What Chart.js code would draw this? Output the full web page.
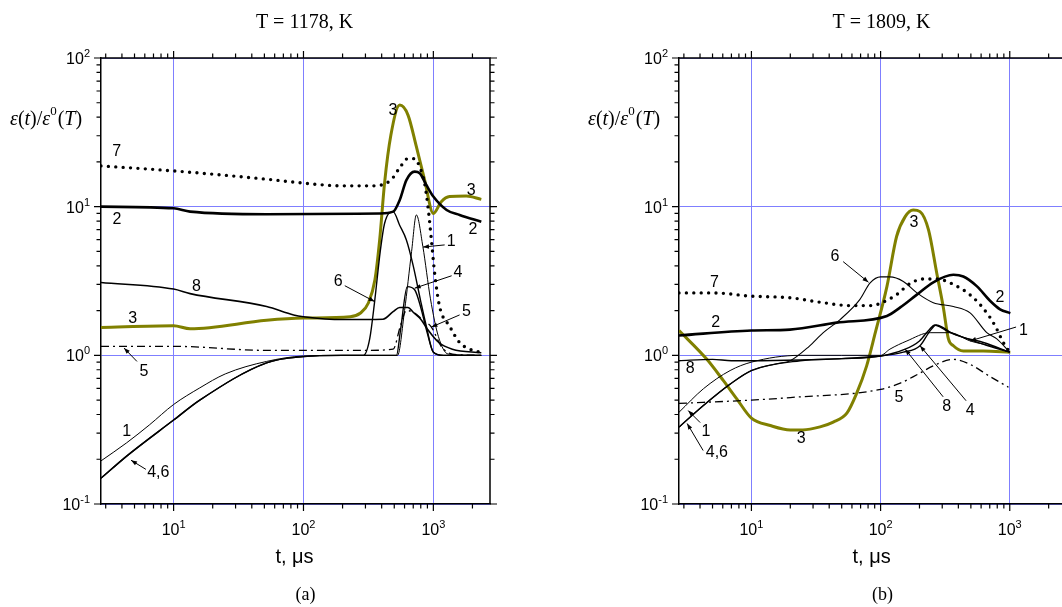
<!DOCTYPE html>
<html>
<head>
<meta charset="utf-8">
<script src="https://cdn.jsdelivr.net/npm/chart.js@4.4.1/dist/chart.umd.min.js"></script>
<style>
  html, body { margin: 0; padding: 0; background: #fff; overflow: hidden; width: 1062px; height: 607px; }
  canvas { position: absolute; top: 0; }
  #chartA { left: 0; }
  #chartB { left: 531px; }
</style>
</head>
<body>
<canvas id="chartA" width="531" height="607"></canvas>
<canvas id="chartB" width="540" height="607"></canvas>
<script>
// ---- panel (a): T = 1178 K ----
const a1T = [2.76, 4.35, 6.5, 10, 15.9, 25, 52, 100, 200, 400, 530, 600, 680, 740, 830, 950, 1093, 1300, 2340];
const a1V = [0.195, 0.258, 0.34, 0.467, 0.604, 0.75, 0.91, 0.99, 1.0, 1.0, 1.0, 2.0, 5.0, 8.8, 5.4, 2.4, 1.34, 1.02, 1.0];
const a2T = [2.76, 10, 13.4, 52, 386, 490, 551, 620, 718, 785, 883, 1000, 1265, 1593, 2340];
const a2V = [10, 9.75, 9.26, 8.89, 9.0, 9.26, 11.1, 15.1, 17.2, 16.8, 14.0, 11.7, 9.5, 8.8, 7.93];
const a3T = [2.76, 10, 13.4, 52, 100, 229, 273, 316, 355, 386, 421, 471, 551, 638, 740, 857, 1000, 1151, 1334, 1795, 2340];
const a3V = [1.54, 1.58, 1.51, 1.72, 1.78, 1.82, 1.92, 2.25, 3.22, 5.97, 14.4, 30.3, 48.2, 41.3, 25.3, 15.1, 9.0, 10.8, 11.7, 11.8, 11.2];
const a4T = [2.76, 4.35, 10, 15.9, 52, 100, 200, 520, 560, 630, 720, 800, 900, 1000, 1200, 2340];
const a4V = [0.149, 0.21, 0.367, 0.5, 0.89, 0.98, 1.0, 1.0, 1.5, 2.9, 2.75, 2.1, 1.4, 1.05, 1.0, 1.0];
const a5T = [2.76, 10, 52, 100, 300, 490, 560, 620, 700, 850, 966, 1150, 1400, 2340];
const a5V = [1.15, 1.15, 1.08, 1.08, 1.08, 1.1, 1.6, 2.0, 1.95, 1.7, 1.55, 1.15, 1.02, 1.0];
const a6T = [2.76, 4.35, 10, 15.9, 52, 100, 200, 290, 324, 353, 390, 421, 490, 550, 620, 700, 800, 883, 1000, 1200, 2340];
const a6V = [0.149, 0.21, 0.367, 0.5, 0.89, 0.98, 1.0, 1.0, 1.3, 2.3, 5.0, 7.7, 9.26, 7.5, 5.97, 4.0, 2.3, 1.57, 1.05, 1.0, 1.0];
const a7T = [2.76, 10, 52, 100, 200, 341, 471, 563, 638, 718, 785, 857, 909, 966, 1023, 1117, 1334, 1593, 2017, 2340];
const a7V = [18.8, 17.4, 15.3, 14.4, 13.8, 13.8, 15.1, 18.8, 21.1, 21.0, 18.5, 14.3, 10, 5.97, 3.57, 2.13, 1.57, 1.22, 1.08, 1.05];
const a8T = [2.76, 10, 13.4, 52, 84, 100, 202, 409, 490, 551, 638, 700, 800, 900, 1100, 1400, 2340];
const a8V = [3.09, 2.79, 2.6, 2.13, 1.87, 1.82, 1.74, 1.75, 1.97, 2.1, 2.1, 1.95, 1.75, 1.5, 1.22, 1.1, 1.04];

// curve numbers [text, t, value] and leader arrows [tFrom, vFrom, tTo, vTo]
const aLabels = [['7', 3.64, 23.4], ['2', 3.66, 8.15], ['8', 15.0, 2.9], ['3', 4.84, 1.78], ['5', 5.91, 0.78],
  ['1', 4.35, 0.309], ['4,6', 7.62, 0.163], ['3', 489, 44.6], ['3', 1959, 12.9], ['2', 2017, 6.98],
  ['1', 1374, 5.82], ['4', 1545, 3.6], ['5', 1795, 1.97], ['6', 185, 3.14]];
const aArrows = [[5.22, 0.91, 4.15, 1.12], [6.12, 0.171, 4.7, 0.197], [1222, 5.53, 832, 5.35],
  [1383, 3.43, 718, 2.83], [1593, 1.87, 966, 1.55], [208, 2.94, 353, 2.3]];

// ---- panel (b): T = 1809 K ----
const b1T = [2.75, 4.25, 6.84, 10, 23.8, 50, 100, 118, 160, 242, 344, 493, 703, 1000];
const b1V = [0.414, 0.596, 0.79, 0.9, 1.0, 1.0, 1.0, 1.1, 1.25, 1.42, 1.42, 1.25, 1.16, 1.05];
const b2T = [2.75, 10, 19.9, 45.7, 112, 142, 191, 256, 366, 437, 555, 703, 841, 1010];
const b2V = [1.36, 1.47, 1.49, 1.66, 1.84, 2.1, 2.56, 3.1, 3.48, 3.39, 2.92, 2.33, 2.04, 1.92];
const b3T = [2.75, 4.52, 6.07, 7.7, 10, 14, 20, 25, 34, 43, 55, 65, 78, 91, 112, 133, 155, 179, 202, 235, 272, 306, 335, 366, 437, 625, 1010];
const b3V = [1.47, 0.94, 0.675, 0.51, 0.378, 0.337, 0.315, 0.315, 0.33, 0.355, 0.41, 0.55, 0.85, 1.42, 2.91, 6.3, 8.57, 9.5, 9.26, 6.97, 3.58, 2.1, 1.29, 1.16, 1.07, 1.07, 1.05];
const b4T = [2.75, 4.25, 6.84, 10, 23.8, 50, 100, 150, 202, 240, 270, 300, 350, 500, 700, 1000];
const b4V = [0.329, 0.46, 0.64, 0.79, 0.92, 0.95, 0.99, 1.05, 1.16, 1.45, 1.6, 1.55, 1.42, 1.27, 1.15, 1.05];
const b5T = [2.75, 10, 20, 100, 142, 191, 256, 366, 493, 703, 977];
const b5V = [0.475, 0.5, 0.52, 0.59, 0.65, 0.74, 0.85, 0.94, 0.87, 0.72, 0.61];
const b6T = [2.75, 4.25, 6.84, 10, 16, 20, 28, 36, 48.6, 69, 83, 100, 118, 150, 191, 256, 366, 493, 664, 794, 1000];
const b6V = [0.329, 0.46, 0.64, 0.79, 0.88, 0.92, 1.15, 1.42, 1.74, 2.37, 3.07, 3.37, 3.37, 3.14, 2.63, 2.26, 2.13, 1.93, 1.42, 1.29, 1.05];
const b7T = [2.75, 5.08, 10, 19.9, 36, 58, 85, 102, 133, 169, 214, 272, 366, 523, 703, 794, 891, 1000];
const b7V = [2.63, 2.63, 2.5, 2.44, 2.26, 2.16, 2.16, 2.26, 2.56, 3.04, 3.26, 3.26, 3.0, 2.44, 1.8, 1.5, 1.22, 1.05];
const b8T = [2.75, 5, 7, 10, 24, 50, 100, 155, 200, 240, 262, 290, 325, 437, 625, 1000];
const b8V = [0.92, 0.94, 0.92, 0.92, 0.93, 0.95, 0.99, 1.1, 1.25, 1.5, 1.6, 1.55, 1.46, 1.32, 1.22, 1.05];

const bLabels = [['7', 5.17, 3.08], ['2', 5.3, 1.66], ['8', 3.36, 0.81], ['1', 4.44, 0.305], ['4,6', 5.4, 0.222],
  ['3', 24.3, 0.276], ['5', 139, 0.516], ['8', 325, 0.449], ['4', 493, 0.426], ['1', 1274, 1.46],
  ['2', 841, 2.44], ['3', 181, 7.82], ['6', 44.4, 4.59]];
const bArrows = [[4.01, 0.353, 3.24, 0.425], [4.23, 0.229, 3.18, 0.348], [305, 0.526, 155, 1.1],
  [459, 0.495, 202, 1.16], [1119, 1.55, 493, 1.25], [51.3, 4.27, 80.6, 3.1]];

const SANS = '"Liberation Sans", Arial, sans-serif';
const SERIF = '"Liberation Serif", "Times New Roman", serif';
const OLIVE = '#808000';

function pts(t, v) { return t.map((x, i) => ({ x: x, y: v[i] })); }
function isDecade(v) { const l = Math.log10(v); return Math.abs(l - Math.round(l)) < 1e-6; }

// tick positions 1..9 x 10^n inside [min, max]
function logTicks(min, max) {
  const out = [];
  for (let e = Math.floor(Math.log10(min)); e <= Math.ceil(Math.log10(max)); e++) {
    for (let m = 1; m <= 9; m++) {
      const v = parseFloat((m * Math.pow(10, e)).toPrecision(6));
      if (v >= min * 0.9999 && v <= max * 1.0001) out.push({ value: v });
    }
  }
  return out;
}

function line(data, opts) {
  return Object.assign({
    data: data, borderColor: '#000', borderWidth: 1, pointRadius: 0,
    fill: false, cubicInterpolationMode: 'monotone'
  }, opts);
}
const dotted = { borderWidth: 3.4, borderDash: [0, 7.4], borderCapStyle: 'round' };
const dashDot = { borderWidth: 1.3, borderDash: [8, 4, 2, 4] };

function drawPow(ctx, exp, x, y, align) {
  ctx.font = '16px ' + SANS;
  const w1 = ctx.measureText('10').width;
  ctx.font = '11px ' + SANS;
  const w2 = ctx.measureText(exp).width;
  const x0 = align === 'center' ? x - (w1 + w2) / 2 : x - w1 - w2;
  ctx.textAlign = 'left';
  ctx.textBaseline = 'alphabetic';
  ctx.font = '16px ' + SANS;
  ctx.fillText('10', x0, y);
  ctx.font = '11px ' + SANS;
  ctx.fillText(exp, x0 + w1, y - 7);
}

function frame(info) {
  return {
    id: 'frame',
    afterDraw(chart) {
      const { ctx, chartArea: a, scales: { x, y } } = chart;
      ctx.save();
      ctx.fillStyle = '#000';
      ctx.strokeStyle = '#000';

      // top and right axes
      ctx.lineWidth = 1.5;
      ctx.beginPath();
      ctx.moveTo(a.left, a.top); ctx.lineTo(a.right, a.top); ctx.lineTo(a.right, a.bottom);
      ctx.stroke();

      // tick marks on all four sides, outward
      ctx.lineWidth = 1.2;
      ctx.beginPath();
      x.ticks.forEach(t => {
        const p = x.getPixelForValue(t.value);
        const len = isDecade(t.value) ? 7 : 4.5;
        ctx.moveTo(p, a.bottom); ctx.lineTo(p, a.bottom + len);
        ctx.moveTo(p, a.top); ctx.lineTo(p, a.top - len);
      });
      y.ticks.forEach(t => {
        const p = y.getPixelForValue(t.value);
        const len = isDecade(t.value) ? 7 : 4.5;
        ctx.moveTo(a.left, p); ctx.lineTo(a.left - len, p);
        ctx.moveTo(a.right, p); ctx.lineTo(a.right + len, p);
      });
      ctx.stroke();

      // tick labels 10^n
      x.ticks.filter(t => isDecade(t.value)).forEach(t => {
        drawPow(ctx, String(Math.round(Math.log10(t.value))), x.getPixelForValue(t.value), a.bottom + 31, 'center');
      });
      y.ticks.filter(t => isDecade(t.value)).forEach(t => {
        drawPow(ctx, String(Math.round(Math.log10(t.value))), a.left - 11, y.getPixelForValue(t.value) + 6, 'right');
      });

      // titles and captions
      const p100 = x.getPixelForValue(100);
      ctx.textAlign = 'center';
      ctx.textBaseline = 'alphabetic';
      ctx.font = '20px ' + SERIF;
      ctx.fillText(info.title, p100 + 1, 28);
      ctx.font = '20px ' + SANS;
      ctx.fillText('t, \u03bcs', p100 - 9, 563);
      ctx.font = '18px ' + SERIF;
      ctx.fillText(info.panel, p100 + 2, 600);

      // y axis label  eps(t)/eps^0(T)
      let xx = a.left - 91;
      const yb = 125;
      ctx.textAlign = 'left';
      const parts = [['italic 20px ', '\u03b5'], ['20px ', '('], ['italic 20px ', 't'], ['20px ', ')/'],
        ['italic 20px ', '\u03b5'], ['13px ', '0', -10], ['20px ', '('], ['italic 20px ', 'T'], ['20px ', ')']];
      parts.forEach(p => {
        ctx.font = p[0] + SERIF;
        ctx.fillText(p[1], xx, yb + (p[2] || 0));
        xx += ctx.measureText(p[1]).width + (p[2] ? 1 : 0);
      });

      // leader arrows
      ctx.lineWidth = 1;
      info.arrows.forEach(r => {
        const x0 = x.getPixelForValue(r[0]), y0 = y.getPixelForValue(r[1]);
        const x1 = x.getPixelForValue(r[2]), y1 = y.getPixelForValue(r[3]);
        ctx.beginPath(); ctx.moveTo(x0, y0); ctx.lineTo(x1, y1); ctx.stroke();
        const ang = Math.atan2(y1 - y0, x1 - x0);
        ctx.beginPath();
        ctx.moveTo(x1, y1);
        ctx.lineTo(x1 - 6 * Math.cos(ang) + 2.2 * Math.sin(ang), y1 - 6 * Math.sin(ang) - 2.2 * Math.cos(ang));
        ctx.lineTo(x1 - 6 * Math.cos(ang) - 2.2 * Math.sin(ang), y1 - 6 * Math.sin(ang) + 2.2 * Math.cos(ang));
        ctx.closePath(); ctx.fill();
      });

      // curve numbers
      ctx.font = '16px ' + SANS;
      ctx.textAlign = 'center';
      ctx.textBaseline = 'middle';
      info.labels.forEach(l => {
        ctx.fillText(l[0], x.getPixelForValue(l[1]), y.getPixelForValue(l[2]));
      });
      ctx.restore();
    }
  };
}

function makePanel(id, xMin, xMax, padRight, yWidth, datasets, info) {
  const grid = {
    color: c => (c.tick && isDecade(c.tick.value)) ? '#7f7fff' : 'rgba(0,0,0,0)',
    lineWidth: 1,
    drawTicks: false
  };
  const border = { display: true, color: '#000', width: 1.5 };
  return new Chart(document.getElementById(id), {
    type: 'line',
    data: { datasets: datasets },
    options: {
      responsive: false,
      animation: false,
      devicePixelRatio: 1,
      layout: { padding: { top: 58, right: padRight, left: 0, bottom: 0 } },
      plugins: { legend: { display: false }, tooltip: { enabled: false } },
      scales: {
        x: {
          type: 'logarithmic', min: xMin, max: xMax,
          ticks: { display: false }, grid: grid, border: border,
          afterBuildTicks: s => { s.ticks = logTicks(xMin, xMax); },
          afterFit: s => { s.height = 103; }
        },
        y: {
          type: 'logarithmic', min: 0.1, max: 100,
          ticks: { display: false }, grid: grid, border: border,
          afterBuildTicks: s => { s.ticks = logTicks(0.1, 100); },
          afterFit: s => { s.width = yWidth; }
        }
      }
    },
    plugins: [frame(info)]
  });
}

makePanel('chartA', 2.76, 2730, 41, 101, [
  line(pts(a5T, a5V), dashDot),
  line(pts(a8T, a8V), { borderWidth: 1.6 }),
  line(pts(a1T, a1V), { borderWidth: 1 }),
  line(pts(a4T, a4V), { borderWidth: 1.4 }),
  line(pts(a6T, a6V), { borderWidth: 1.4 }),
  line(pts(a2T, a2V), { borderWidth: 2.6 }),
  line(pts(a7T, a7V), dotted),
  line(pts(a3T, a3V), { borderColor: OLIVE, borderWidth: 3 })
], { title: 'T = 1178, K', panel: '(a)', labels: aLabels, arrows: aArrows });

makePanel('chartB', 2.75, 2725, 5, 148, [
  line(pts(b5T, b5V), dashDot),
  line(pts(b8T, b8V), { borderWidth: 1.4 }),
  line(pts(b1T, b1V), { borderWidth: 1 }),
  line(pts(b4T, b4V), { borderWidth: 1.4 }),
  line(pts(b6T, b6V), { borderWidth: 1.1 }),
  line(pts(b2T, b2V), { borderWidth: 2.6 }),
  line(pts(b7T, b7V), dotted),
  line(pts(b3T, b3V), { borderColor: OLIVE, borderWidth: 3 })
], { title: 'T = 1809, K', panel: '(b)', labels: bLabels, arrows: bArrows });
</script>
</body>
</html>
